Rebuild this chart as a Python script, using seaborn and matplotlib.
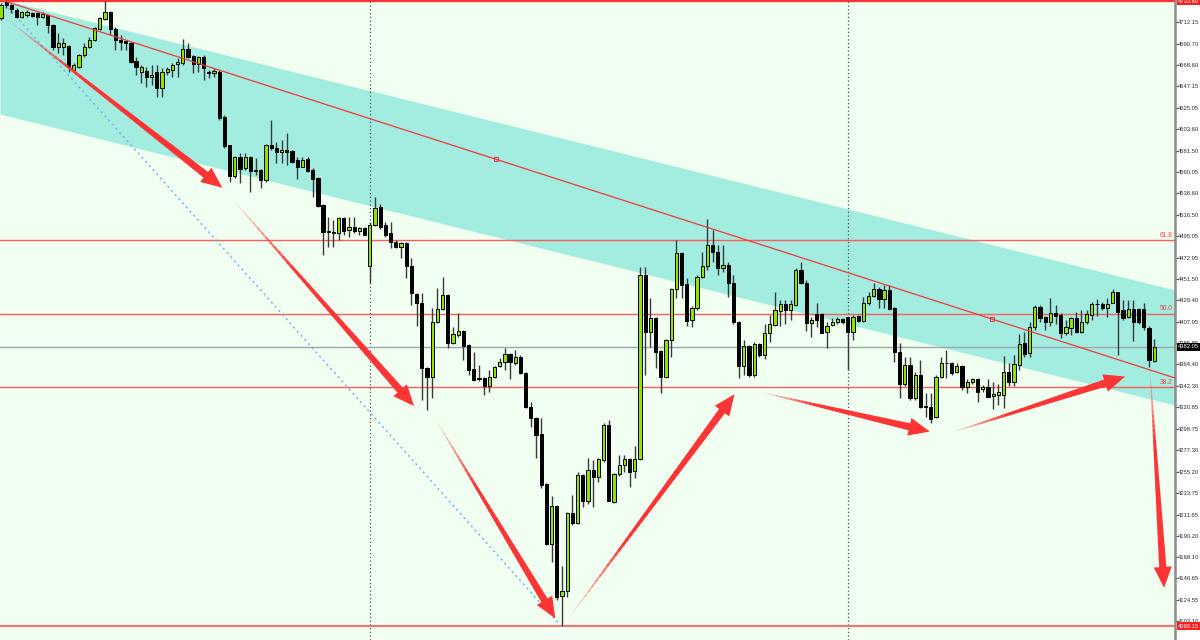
import numpy as np
import seaborn as sns
import matplotlib
matplotlib.use("Agg")
import matplotlib.pyplot as plt
from matplotlib.patches import Polygon
from matplotlib.transforms import blended_transform_factory

# ---------------- data ----------------
opens = [4717, 4733, 4730, 4725, 4718, 4720, 4722, 4722, 4718, 4720,
         4710, 4687, 4687, 4688, 4664, 4667, 4679, 4687, 4694, 4706,
         4716, 4723, 4706, 4694, 4693, 4691, 4673, 4662, 4663, 4657,
         4662, 4645, 4662, 4664, 4670, 4671, 4685, 4678, 4670, 4677,
         4662, 4661, 4662, 4616, 4587, 4556, 4575, 4564, 4575, 4562,
         4562, 4552, 4588, 4584, 4580, 4582, 4581, 4572, 4565, 4573,
         4562, 4554, 4526, 4499, 4499, 4498, 4513, 4501, 4504, 4500,
         4503, 4464, 4506, 4524, 4506, 4498, 4489, 4484, 4488, 4464,
         4436, 4427, 4361, 4352, 4407, 4421, 4435, 4386, 4394, 4398,
         4384, 4360, 4349, 4351, 4342, 4352, 4363, 4367, 4375, 4366,
         4372, 4356, 4321, 4310, 4294, 4243, 4182, 4220, 4129, 4134,
         4213, 4203, 4252, 4225, 4257, 4250, 4267, 4303, 4224, 4253,
         4262, 4268, 4256, 4268, 4455, 4397, 4412, 4378, 4352, 4389,
         4441, 4478, 4446, 4409, 4422, 4453, 4464, 4486, 4479, 4462,
         4465, 4447, 4407, 4363, 4383, 4354, 4385, 4374, 4396, 4404,
         4419, 4426, 4420, 4425, 4460, 4447, 4406, 4416, 4416, 4397,
         4404, 4407, 4411, 4413, 4397, 4414, 4408, 4427, 4434, 4441,
         4431, 4440, 4422, 4377, 4344, 4364, 4330, 4354, 4322, 4321,
         4311, 4352, 4366, 4366, 4357, 4363, 4341, 4346, 4349, 4339,
         4341, 4332, 4333, 4333, 4357, 4346, 4364, 4386, 4376, 4402,
         4423, 4413, 4407, 4417, 4415, 4396, 4401, 4412, 4397, 4407,
         4415, 4426, 4426, 4422, 4427, 4438, 4420, 4413, 4421, 4421,
         4421, 4401, 4368]

highs = [4732, 4733, 4731, 4727, 4724, 4725, 4723, 4723, 4723, 4721,
         4711, 4701, 4696, 4689, 4671, 4680, 4691, 4697, 4708, 4718,
         4733.6, 4724, 4708, 4699, 4694, 4692, 4677, 4669, 4667, 4669,
         4669, 4666, 4667, 4671, 4676, 4695, 4691, 4679, 4678, 4679,
         4664, 4666, 4664, 4618, 4588, 4576, 4579, 4579, 4576, 4574,
         4563, 4589, 4613, 4591, 4593, 4600, 4582, 4575, 4575, 4575,
         4564, 4555, 4527, 4514, 4511, 4514, 4514, 4514, 4514, 4504,
         4504, 4509, 4535, 4527, 4509, 4509, 4491, 4489, 4489, 4473,
         4437, 4437, 4362, 4422, 4442, 4453, 4436, 4402, 4417, 4399,
         4385, 4377, 4364, 4352, 4359, 4363, 4371, 4381, 4376, 4379,
         4374, 4357, 4326, 4311, 4310, 4244, 4230, 4221, 4159, 4214,
         4232, 4255, 4253, 4269, 4267, 4269, 4305, 4308, 4254, 4272,
         4272, 4269, 4281, 4463, 4463, 4432, 4413, 4379, 4390, 4442,
         4491, 4479, 4452, 4424, 4455, 4479, 4512, 4501, 4486, 4486,
         4469, 4455, 4408, 4389, 4384, 4387, 4386, 4405, 4415, 4438,
         4430, 4430, 4430, 4462, 4468, 4450, 4413, 4427, 4417, 4407,
         4412, 4413, 4412, 4413, 4415, 4415, 4433, 4438, 4447, 4443,
         4445, 4445, 4423, 4386, 4372, 4372, 4357, 4369, 4335, 4335,
         4354, 4372, 4379, 4367, 4366, 4364, 4349, 4351, 4351, 4343,
         4349, 4346, 4344, 4373, 4366, 4374, 4395, 4397, 4407, 4425,
         4425, 4414, 4432, 4425, 4417, 4410, 4413, 4418, 4420, 4420,
         4428, 4431, 4428, 4432, 4441, 4438, 4430, 4430, 4430, 4422,
         4427, 4403, 4390]

lows = [4715, 4727, 4722, 4717, 4717, 4718, 4718, 4710, 4717, 4701,
        4684, 4681, 4679, 4662, 4662, 4666, 4677, 4686, 4693, 4704,
        4715, 4699, 4684, 4684, 4684, 4671, 4659, 4651, 4646, 4649,
        4636, 4636, 4659, 4657, 4657, 4669, 4676, 4661, 4662, 4654,
        4656, 4657, 4613, 4584, 4550, 4554, 4549, 4562, 4540, 4557,
        4544, 4550, 4582, 4569, 4569, 4567, 4569, 4553, 4565, 4560,
        4535, 4524, 4476, 4484, 4484, 4491, 4496, 4494, 4498, 4496,
        4496, 4447, 4505, 4502, 4494, 4483, 4483, 4473, 4452, 4425,
        4403, 4328, 4318, 4330, 4406, 4420, 4381, 4385, 4392, 4369,
        4354, 4347, 4347, 4333, 4336, 4351, 4362, 4359, 4349, 4364,
        4355, 4320, 4301, 4269, 4239, 4181, 4163, 4125, 4098.15, 4128,
        4201, 4202, 4219, 4222, 4219, 4245, 4265, 4225, 4223, 4251,
        4255, 4240, 4249, 4267, 4354, 4382, 4361, 4335, 4351, 4372,
        4432, 4432, 4403, 4402, 4420, 4452, 4460, 4469, 4455, 4458,
        4433, 4405, 4351, 4354, 4352, 4352, 4372, 4370, 4387, 4403,
        4403, 4405, 4410, 4424, 4446, 4398, 4392, 4402, 4396, 4381,
        4403, 4405, 4405, 4359, 4389, 4407, 4407, 4425, 4433, 4422,
        4422, 4420, 4367, 4330, 4342, 4328, 4328, 4320, 4311, 4305,
        4310, 4351, 4351, 4354, 4356, 4338, 4335, 4344, 4326, 4336,
        4331, 4319, 4323, 4320, 4342, 4342, 4359, 4372, 4372, 4399,
        4407, 4399, 4403, 4405, 4391, 4394, 4394, 4396, 4396, 4405,
        4410, 4414, 4420, 4413, 4427, 4374, 4410, 4412, 4388, 4405,
        4399, 4362, 4367]

closes = [4730, 4730, 4726, 4718, 4723, 4723, 4719, 4718, 4721, 4710,
          4687, 4691, 4691, 4667, 4669, 4679, 4687, 4694, 4707, 4717,
          4723, 4706, 4694, 4692, 4691, 4672, 4667, 4667, 4657, 4659,
          4645, 4662, 4665, 4669, 4672, 4685, 4677, 4670, 4677, 4666,
          4661, 4663, 4615, 4586, 4556, 4575, 4563, 4575, 4561, 4561.5,
          4552, 4588, 4584, 4580, 4582, 4580, 4570, 4565, 4572, 4561,
          4553, 4525, 4499, 4500, 4498, 4513, 4500, 4504, 4500, 4503,
          4496, 4506, 4523, 4504, 4496, 4489, 4484, 4488, 4464, 4437,
          4427, 4361, 4352, 4407, 4421, 4435, 4386, 4395, 4398, 4383,
          4359, 4348, 4351, 4342, 4352, 4362, 4367, 4375, 4367, 4372,
          4356, 4321, 4310, 4293, 4242, 4182, 4220, 4128, 4134, 4213,
          4203, 4252, 4225, 4257, 4250, 4268, 4303, 4225, 4253, 4262,
          4268, 4255, 4268, 4455, 4397, 4412, 4377, 4352, 4389, 4441,
          4478, 4445, 4408, 4422, 4453, 4464, 4486, 4479, 4462, 4465,
          4447, 4407, 4363, 4383, 4354, 4385, 4374, 4396, 4405, 4420,
          4426, 4420, 4426, 4460, 4447, 4406, 4410, 4410, 4396, 4403,
          4407, 4411, 4407, 4397, 4413, 4408, 4427, 4434, 4441, 4431,
          4440, 4421, 4377, 4344, 4364, 4330, 4354, 4321, 4321, 4309,
          4352, 4366, 4365.5, 4356, 4363, 4341, 4346, 4349, 4336, 4341,
          4331, 4334, 4336, 4357, 4346, 4365, 4385, 4375, 4402, 4423,
          4412, 4407, 4417, 4414, 4396, 4402, 4412, 4397, 4407, 4416,
          4426, 4425.5, 4422, 4426, 4438, 4418, 4412, 4421, 4407, 4407,
          4402, 4369, 4382.05]

tick_values = [4712.15, 4690.70, 4668.60, 4647.15, 4625.05, 4603.60, 4581.50,
               4560.05, 4538.60, 4516.50, 4495.05, 4472.95, 4451.50, 4429.40,
               4407.95, 4385.85, 4364.40, 4342.30, 4320.85, 4298.75, 4277.30,
               4255.20, 4233.75, 4211.65, 4190.20, 4168.10, 4146.65, 4124.55,
               4103.10]
tick_labels = ["4712.15", "4690.70", "4668.60", "4647.15", "4625.05", "4603.60",
               "4581.50", "4560.05", "4538.60", "4516.50", "4495.05", "4472.95",
               "4451.50", "4429.40", "4407.95", "4385.85", "4364.40", "4342.30",
               "4320.85", "4298.75", "4277.30", "4255.20", "4233.75", "4211.65",
               "4190.20", "4168.10", "4146.65", "4124.55", "4103.10"]

swing_high = 4733.60
swing_low = 4098.15
fib_ratios = [0.618, 0.5, 0.382]
fib_names = ["61.8", "50.0", "38.2"]
last_price = 4382.05
session_breaks = [71, 163]

channel_x = [-0.2, 226.0]
channel_upper = [4736.0, 4440.0]
channel_lower = [4619.0, 4323.0]
trend_x = [-0.2, 226.0]
trend_y = [4735.5, 4350.5]
trend_marks_x = [95.3, 190.7]
dotted_x = [1.4, 107.8]
dotted_y = [4727.0, 4098.15]

arrow_tail_x = [0.77, 44.6, 83.7, 109.4, 146.4, 183.0, 221.2]
arrow_tail_y = [4717, 4532, 4308, 4107, 4336, 4295, 4357]
arrow_tip_x = [42.6, 79.5, 106.7, 141.2, 178.8, 216.4, 223.9]
arrow_tip_y = [4544, 4322, 4106, 4334, 4296, 4352, 4137]

# ---------------- drawing ----------------
sns.set_theme(style="white")
plt.rcParams['font.family'] = ['Liberation Sans', 'DejaVu Sans']

fig = plt.figure(figsize=(12, 6.4), dpi=100, facecolor='white')
ax = fig.add_axes([0, 0, 1175 / 1200, 1])
ax.set_facecolor('#F0FFF0')
ax.set_xlim(-0.2, 226.0)
ax.set_ylim(4084.0, 4735.0)

# channel band
ax.fill_between(channel_x, channel_lower, channel_upper, color='#A2ECE0', lw=0, zorder=1)

# session separators
for b in session_breaks:
    ax.axvline(b, color='#505050', lw=0.9, ls=(0, (1, 2)), zorder=2)

# fibonacci + extremes
rng = swing_high - swing_low
for r, name in zip(fib_ratios, fib_names):
    lvl = swing_low + r * rng
    ax.axhline(lvl, color='#FF5C5C', lw=1.0, zorder=2)
    ax.text(0.998, lvl + 1.5, name, transform=blended_transform_factory(ax.transAxes, ax.transData),
            ha='right', va='bottom', fontsize=4.8, color='#FF4040', zorder=7)
ax.axhline(swing_high, color='#FF3030', lw=1.6, zorder=2)
ax.axhline(swing_low, color='#FF7070', lw=1.5, zorder=2)
ax.axhline(last_price, color='#9AA6B2', lw=1.0, zorder=2)

# trend line + anchors
sns.lineplot(x=trend_x, y=trend_y, color='#F03A3A', lw=0.9, ax=ax, zorder=5)
ax.plot(trend_marks_x, np.interp(trend_marks_x, trend_x, trend_y), 's', ms=3,
        mfc='none', mec='#F03A3A', mew=0.8, zorder=5)
# dotted blue line
ax.plot(dotted_x, dotted_y, color='#6AB0F5', lw=1.0, ls=(0, (1.5, 2.5)), zorder=2)

# candles
o = np.array(opens, float); h = np.array(highs, float)
l = np.array(lows, float); c = np.array(closes, float)
idx = np.arange(len(o))
up = c >= o
ax.vlines(idx, l, h, color='#3A3A3A', lw=1.0, zorder=3)
hgt_up = np.maximum((c - o)[up], 0.7)
hgt_dn = np.maximum((o - c)[~up], 0.7)
ax.bar(idx[up], hgt_up, bottom=o[up], width=0.62, color='#8CE400',
       edgecolor='black', linewidth=0.7, zorder=4)
ax.bar(idx[~up], hgt_dn, bottom=c[~up], width=0.62, color='black',
       edgecolor='black', linewidth=0.7, zorder=4)

# arrows (tapered, fading tails)
T = ax.transData
Ti = T.inverted()
acol = '#FF3535'
for x0, y0, x1, y1 in zip(arrow_tail_x, arrow_tail_y, arrow_tip_x, arrow_tip_y):
    p0 = T.transform((x0, y0)); p1 = T.transform((x1, y1))
    d = p1 - p0; L = np.hypot(*d); u = d / L; n = np.array([-u[1], u[0]])
    head_len = min(21.0, L * 0.3); head_w = 9.0; shaft_w = 3.6; tail_w = 0.3
    base = p1 - u * head_len
    N = 40
    for k in range(N):
        t0 = k / N; t1 = (k + 1) / N
        a0 = p0 + (base - p0) * t0; a1 = p0 + (base - p0) * (t1 + 0.004)
        w0 = tail_w + (shaft_w - tail_w) * t0
        w1 = tail_w + (shaft_w - tail_w) * t1
        alpha = min(1.0, 0.08 + 2.6 * t0)
        poly = np.array([a0 + n * w0, a1 + n * w1, a1 - n * w1, a0 - n * w0])
        ax.add_patch(Polygon(Ti.transform(poly), closed=True, fc=acol, ec='none',
                             alpha=alpha, zorder=6))
    head = np.array([base + n * head_w, p1, base - n * head_w])
    ax.add_patch(Polygon(Ti.transform(head), closed=True, fc=acol, ec='none', zorder=6))

# axes styling
ax.set_xticks([])
ax.yaxis.tick_right()
ax.set_yticks(tick_values)
ax.set_yticklabels(tick_labels, fontsize=4.2, color='#303030')
ax.tick_params(axis='y', which='both', right=True, length=1.8, width=0.8,
               color='#505050', pad=0.4)
for s in ['top', 'left', 'bottom']:
    ax.spines[s].set_visible(False)
ax.spines['right'].set_visible(True)
ax.spines['right'].set_color('#8C8C8C')
ax.spines['right'].set_linewidth(1.8)

blend = blended_transform_factory(ax.transAxes, ax.transData)
for val, txt, fc in [(last_price, "4382.05", 'black'),
                     (swing_low, "4098.15", '#FF2020'),
                     (swing_high, "4733.60", '#FF2020')]:
    ax.text(1.0025, val, txt, transform=blend, fontsize=4.2, color='white',
            ha='left', va='center', clip_on=False, zorder=10,
            bbox=dict(boxstyle='square,pad=0.2', fc=fc, ec='none'))

fig.savefig('out.png', dpi=100, facecolor='white')
